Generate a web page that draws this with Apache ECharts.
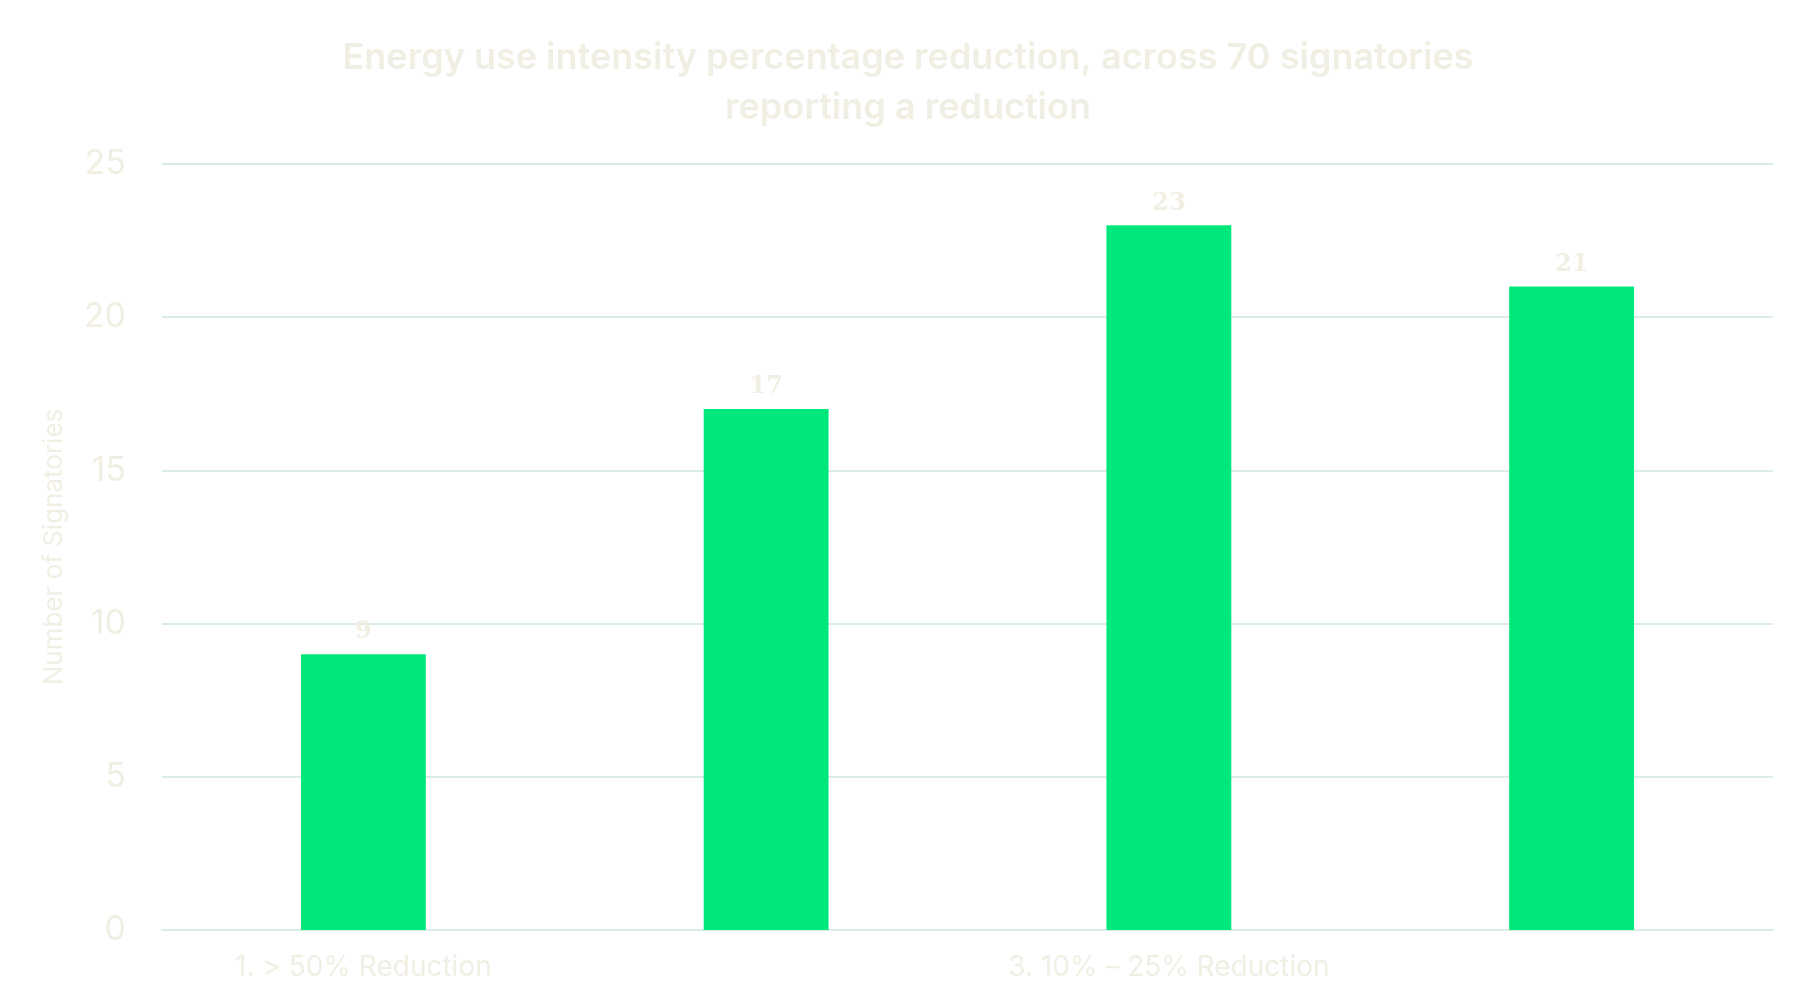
<!DOCTYPE html>
<html><head><meta charset="utf-8">
<script src="https://cdn.jsdelivr.net/npm/echarts@6/dist/echarts.min.js"></script>
<style>html,body{margin:0;background:#fff}#c{width:1800px;height:1001px}</style>
</head><body><div id="c"></div>
<script>
const categories = ["1. > 50% Reduction", "2. 25% – 50% Reduction", "3. 10% – 25% Reduction", "4. < 10% Reduction"];
const values = [9, 17, 23, 21];
const txt = '#f1efe3';
const chart = echarts.init(document.getElementById('c'));
chart.setOption({
  backgroundColor: '#ffffff',
  title: {
    text: 'Energy use intensity percentage reduction, across 70 signatories\nreporting a reduction',
    left: 903, top: 28, textAlign: 'center',
    textStyle: {color: txt, fontFamily: 'Inter', fontSize: 36, fontWeight: 600, lineHeight: 50}
  },
  grid: {left: 162, right: 27, top: 164, bottom: 71},
  xAxis: {
    type: 'category', data: categories,
    axisLine: {lineStyle: {color: '#d9ece6', width: 2}},
    axisTick: {show: false},
    axisLabel: {color: txt, fontFamily: 'Inter', fontSize: 28, margin: 24}
  },
  yAxis: {
    type: 'value', min: 0, max: 25, interval: 5,
    name: 'Number of Signatories', nameLocation: 'middle', nameGap: 95, nameRotate: 90,
    nameTextStyle: {color: txt, fontFamily: 'Inter', fontSize: 26},
    splitLine: {lineStyle: {color: '#d9ece6', width: 2}},
    axisLabel: {color: txt, fontFamily: 'Inter', fontSize: 34, margin: 36}
  },
  series: [{
    type: 'bar', data: values, barWidth: '31%',
    itemStyle: {color: '#00e87b'},
    label: {show: true, position: 'top', color: txt, fontFamily: 'DejaVu Serif', fontWeight: 'bold', fontSize: 24, distance: 10}
  }]
});
</script></body></html>
